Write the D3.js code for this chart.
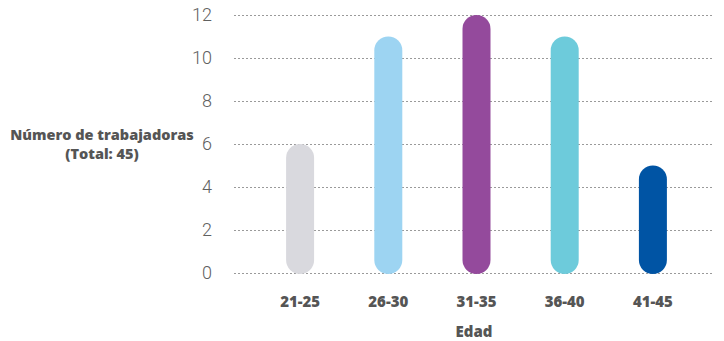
<!DOCTYPE html>
<html>
<head>
<meta charset="utf-8">
<script src="https://cdn.jsdelivr.net/npm/d3@7"></script>
<style>
  body { margin: 0; background: #fff; }
  svg { font-family: "Open Sans", sans-serif; }
</style>
</head>
<body>
<div id="chart"></div>
<script>
const categories = ["21-25", "26-30", "31-35", "36-40", "41-45"];
const values = [6, 11, 12, 11, 5];
const colors = ["#d9d9de", "#9dd4f2", "#944a9c", "#6dcbdb", "#0054a4"];
const yTicks = [0, 2, 4, 6, 8, 10, 12];

const width = 724, height = 341;

const svg = d3.select("#chart")
    .append("svg")
    .attr("width", width)
    .attr("height", height);

const x = d3.scaleBand()
    .domain(categories)
    .range([256, 697])
    .paddingInner(0.68)
    .paddingOuter(0.34);

const y = d3.scaleLinear()
    .domain([0, 12])
    .range([273, 15]);

// dotted gridlines
svg.append("g")
    .selectAll("line")
    .data(yTicks)
    .join("line")
    .attr("x1", 234)
    .attr("x2", 712)
    .attr("y1", d => y(d) + 0.5)
    .attr("y2", d => y(d) + 0.5)
    .attr("stroke", "#9a9a9a")
    .attr("stroke-width", 1)
    .attr("stroke-dasharray", "2,2");

// y tick labels
svg.append("g")
    .selectAll("text")
    .data(yTicks)
    .join("text")
    .attr("x", 212)
    .attr("y", d => y(d))
    .attr("dy", "0.36em")
    .attr("text-anchor", "end")
    .attr("font-family", "Roboto, sans-serif")
    .attr("font-size", 18)
    .attr("font-weight", 300)
    .attr("fill", "#606060")
    .text(d => d);

// rounded bars
const bw = 28;
svg.append("g")
    .selectAll("rect")
    .data(values)
    .join("rect")
    .attr("x", (d, i) => x(categories[i]) + x.bandwidth() / 2 - bw / 2)
    .attr("y", d => y(d))
    .attr("width", bw)
    .attr("height", d => y(0) - y(d) + 1)
    .attr("rx", bw / 2)
    .attr("fill", (d, i) => colors[i]);

// x labels
svg.append("g")
    .selectAll("text")
    .data(categories)
    .join("text")
    .attr("x", d => x(d) + x.bandwidth() / 2)
    .attr("y", 307)
    .attr("text-anchor", "middle")
    .attr("font-size", 15)
    .attr("font-weight", 800)
    .attr("fill", "#555")
    .text(d => d);

svg.append("text")
    .attr("x", 474)
    .attr("y", 337)
    .attr("text-anchor", "middle")
    .attr("font-size", 15)
    .attr("font-weight", 800)
    .attr("fill", "#555")
    .text("Edad");

const ytitle = svg.append("text")
    .attr("text-anchor", "middle")
    .attr("font-size", 14.5)
    .attr("font-weight", 800)
    .attr("fill", "#555");
ytitle.append("tspan").attr("x", 102).attr("y", 140).text("Número de trabajadoras");
ytitle.append("tspan").attr("x", 102).attr("y", 159).text("(Total: 45)");
</script>
</body>
</html>
